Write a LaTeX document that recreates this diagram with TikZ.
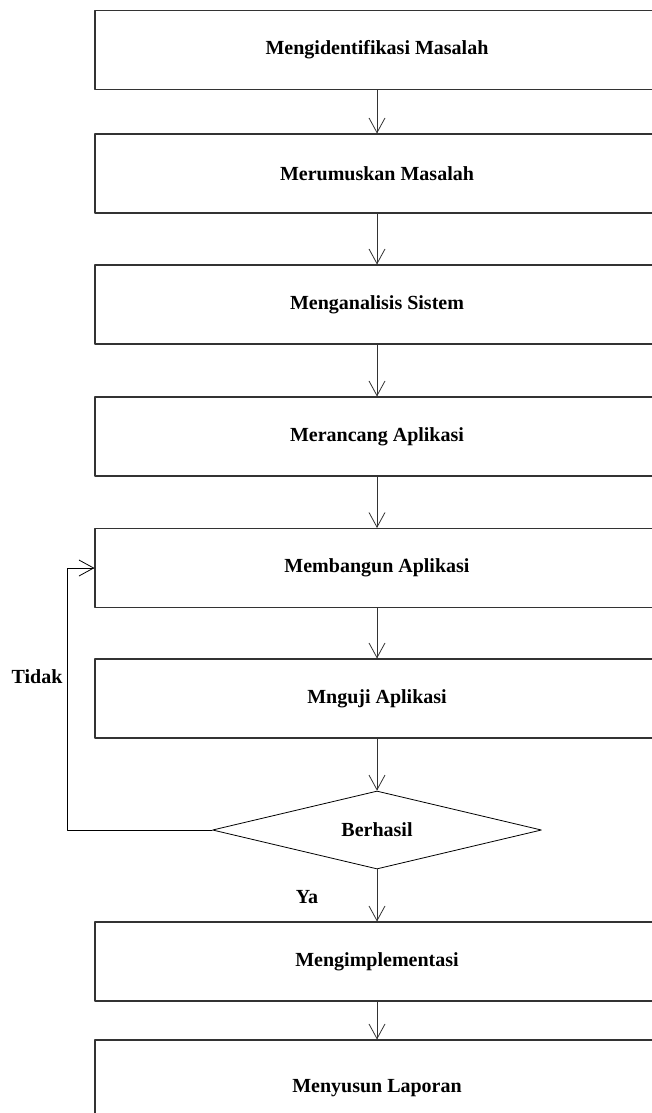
\documentclass[tikz,border=0pt]{standalone}
\usepackage{fontspec}
\setmainfont{Liberation Serif}
\usetikzlibrary{shapes.geometric, arrows.meta}

\begin{document}
\begin{tikzpicture}[x=0.75pt, y=-0.75pt, line cap=round, line join=round,
		>={Straight Barb[length=11pt, width=12pt]}]
	\useasboundingbox (0, 0) rectangle (652, 1113);
	\clip (0, 0) rectangle (652, 1113);
	% Process steps
	\foreach \y/\t [count=\x] in {50/Mengidentifikasi Masalah, 173.5/Merumuskan Masalah,
			304.5/Menganalisis Sistem, 436.5/Merancang Aplikasi, 568/Membangun Aplikasi,
			698.5/Mnguji Aplikasi, 961.5/Mengimplementasi}
		\node [draw=black!80, line width=0.8pt, fill=white, minimum width=423pt, minimum height=59.25pt, font=\bfseries\fontsize{15}{17}\selectfont] (step-\x) at (377, \y) {\t};
	\node [draw=black!80, line width=0.8pt, fill=white, minimum width=423pt, minimum height=72pt, font=\bfseries\fontsize{15}{17}\selectfont] (step-8) at (377, 1088) {Menyusun Laporan};
	% Decision
	\node [diamond, shape aspect=4, draw=black, line width=0.6pt, fill=white, inner sep=0pt, minimum width=246.75pt, minimum height=58.5pt, font=\bfseries\fontsize{15}{17}\selectfont] (check) at (377, 830) {Berhasil};
	% Step arrows
	\foreach \a/\b in {1/2, 2/3, 3/4, 4/5, 5/6}
		\draw [->, draw=black!80, line width=0.6pt] (step-\a) -- (step-\b);
	\draw [->, draw=black!80, line width=0.6pt] (step-6) -- (check);
	\draw [->, draw=black!80, line width=0.6pt] (check) -- (step-7);
	\draw [->, draw=black!80, line width=0.6pt] (step-7) -- (step-8);
	% Back to building
	\draw [->, draw=black, line width=0.6pt] (check.west) -- ++(-145, 0) |- (step-5.west);
	\node [font=\bfseries\fontsize{15}{17}\selectfont] (no) at (37, 677) {Tidak};
	\node [font=\bfseries\fontsize{15}{17}\selectfont] (yes) at (307, 897) {Ya};
\end{tikzpicture}
\end{document}
